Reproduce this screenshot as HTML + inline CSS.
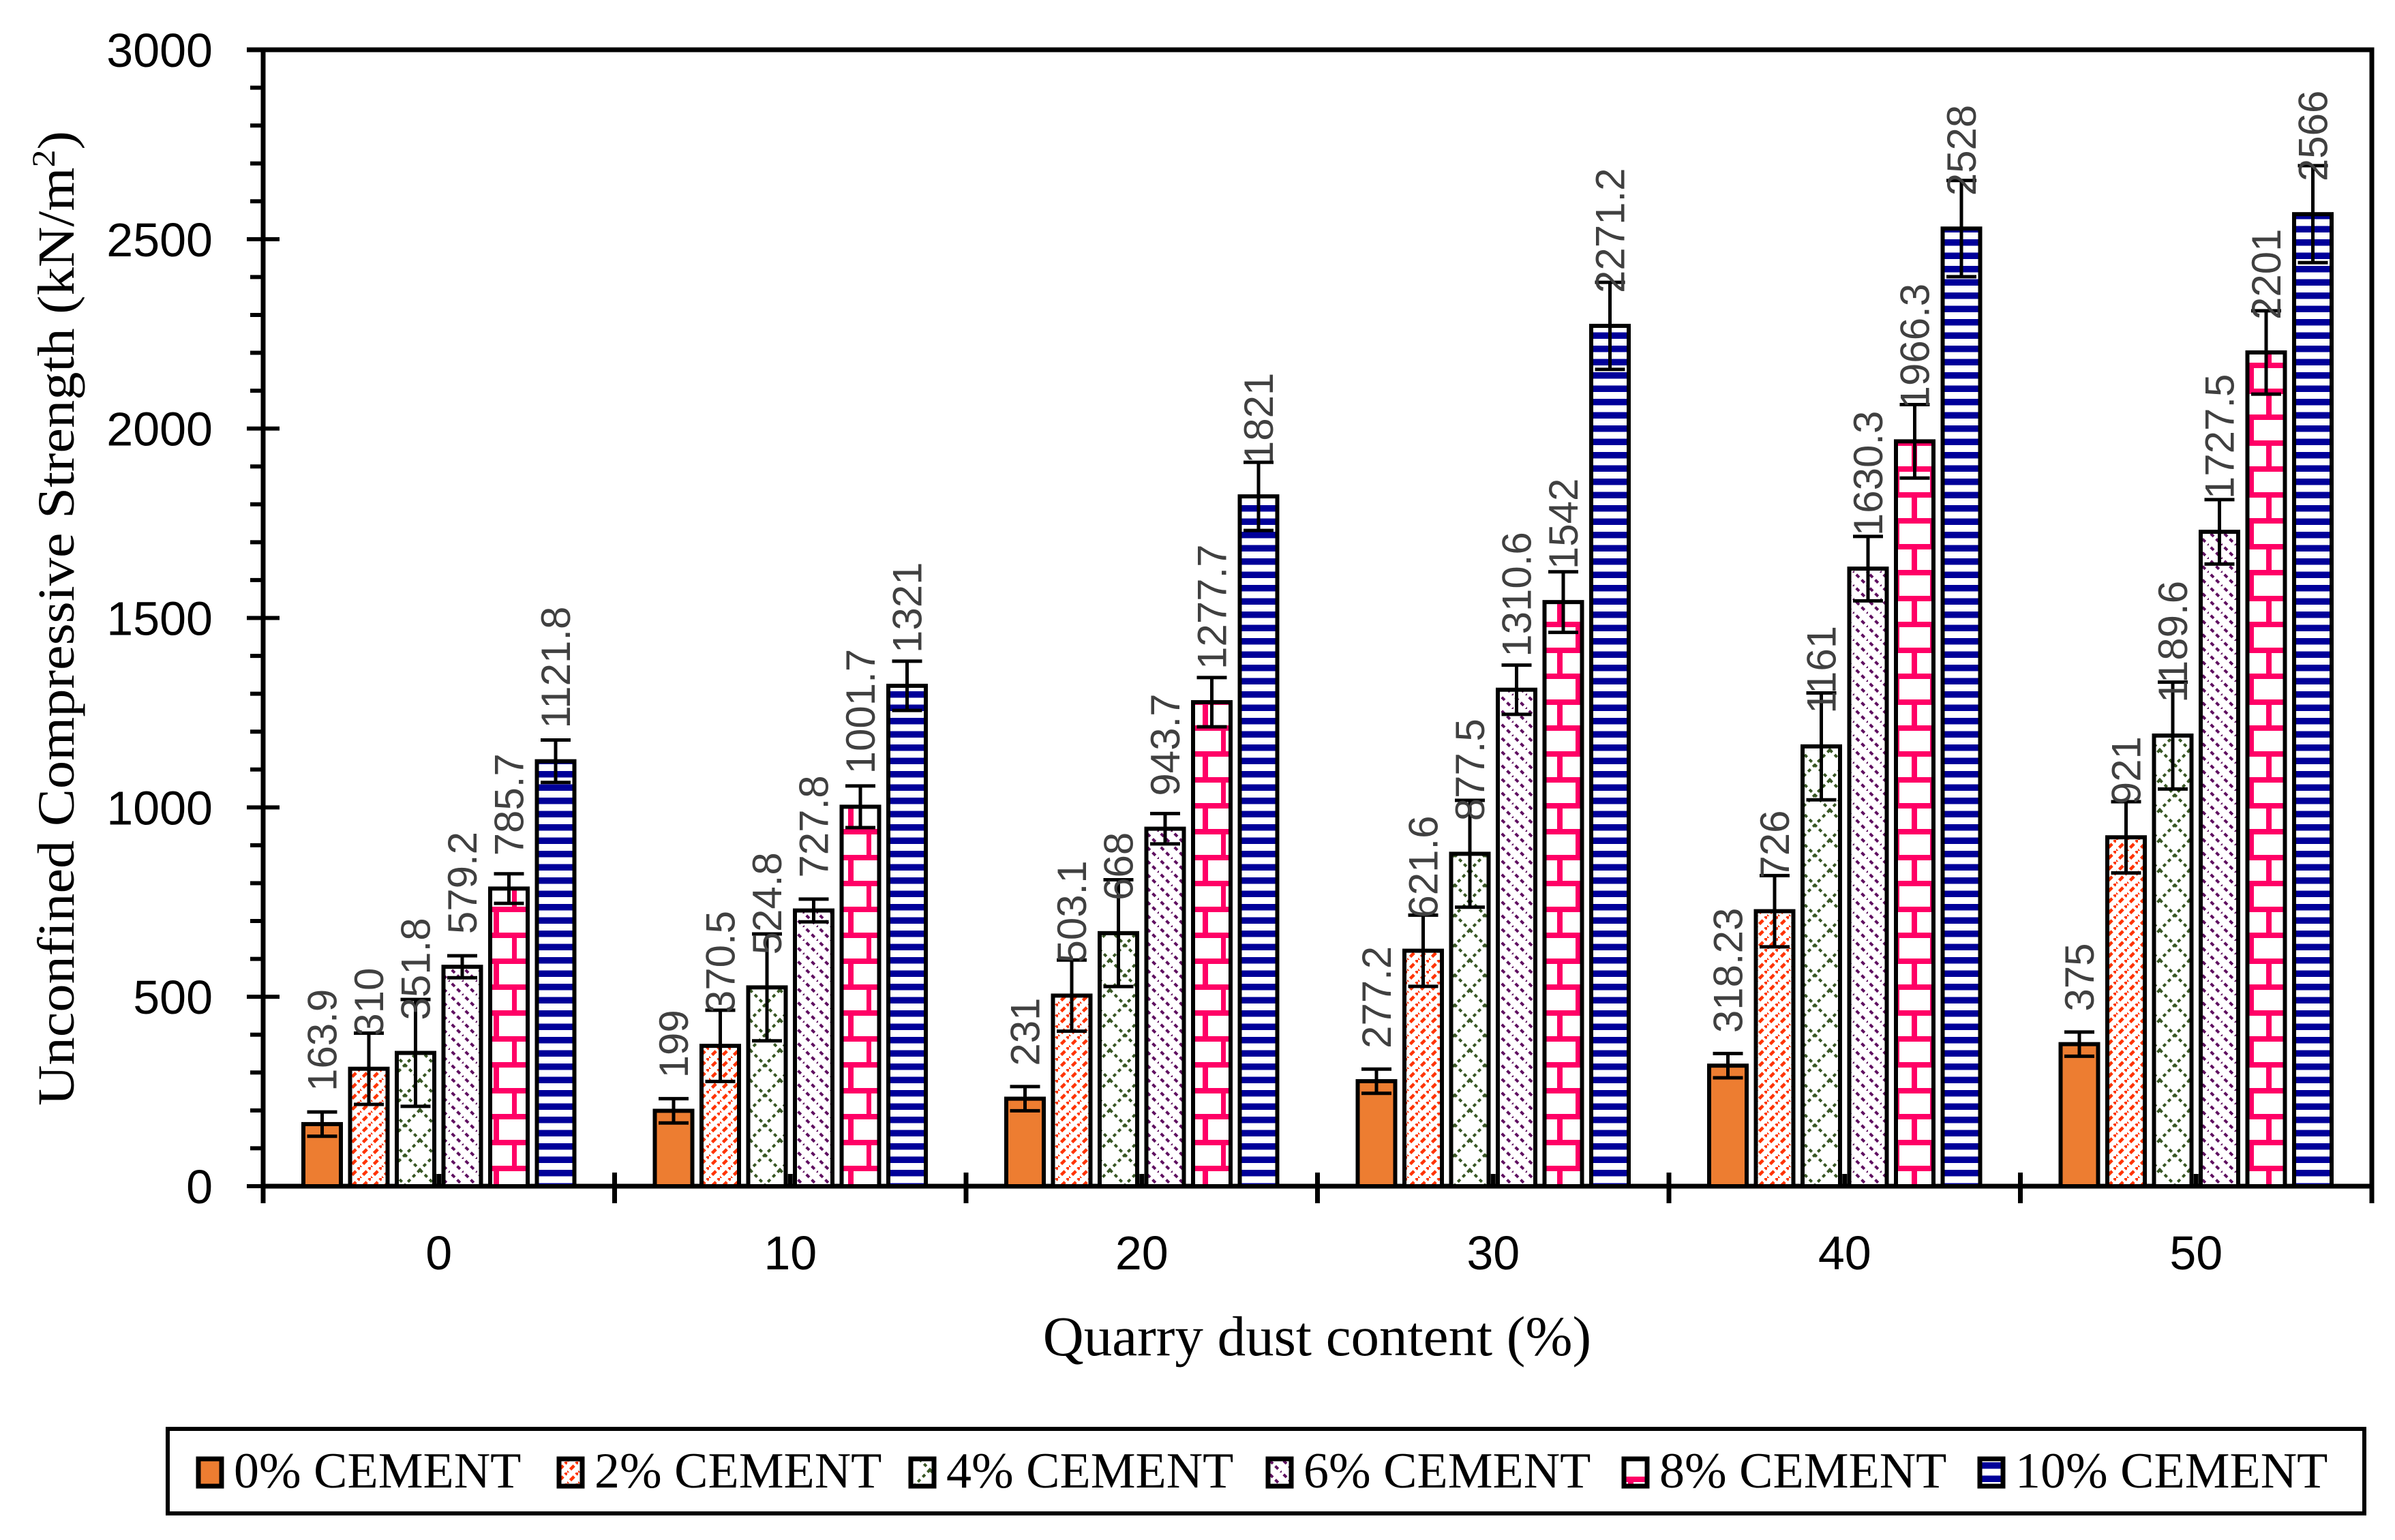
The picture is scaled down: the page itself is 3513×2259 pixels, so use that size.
<!DOCTYPE html>
<html><head><meta charset="utf-8"><style>
html,body{margin:0;padding:0;background:#fff;}
svg{display:block;}
</style></head><body>
<svg id="chart" xmlns="http://www.w3.org/2000/svg" width="3513" height="2259" viewBox="0 0 3513 2259">
<defs>
<pattern id="p2" patternUnits="userSpaceOnUse" width="16" height="16">
<rect width="16" height="16" fill="#fff"/>
<path d="M-4,20 L20,-4" stroke="#FF3300" stroke-width="4.5" stroke-dasharray="8,4"/>
</pattern>
<pattern id="p4" patternUnits="userSpaceOnUse" width="44" height="44">
<rect width="44" height="44" fill="#fff"/>
<path d="M0,0 L44,44 M44,0 L0,44" stroke="#385723" stroke-width="4" stroke-dasharray="5,5"/>
</pattern>
<pattern id="p6" patternUnits="userSpaceOnUse" width="20" height="20">
<rect width="20" height="20" fill="#fff"/>
<path d="M-5,-5 L25,25" stroke="#5F1060" stroke-width="4" stroke-dasharray="6,5"/>
</pattern>
<pattern id="p8" patternUnits="userSpaceOnUse" width="52" height="76">
<rect width="52" height="76" fill="#fff"/>
<rect x="0" y="0" width="52" height="8" fill="#FF0066"/>
<rect x="0" y="38" width="52" height="8" fill="#FF0066"/>
<rect x="23" y="8" width="7" height="30" fill="#FF0066"/>
<rect x="0" y="46" width="4" height="30" fill="#FF0066"/>
<rect x="48" y="46" width="4" height="30" fill="#FF0066"/>
</pattern>
<pattern id="p10" patternUnits="userSpaceOnUse" width="20" height="19.5">
<rect width="20" height="19.5" fill="#fff"/>
<rect y="0" width="20" height="9.5" fill="#000099"/>
</pattern>
</defs>
<g id="axes"></g>
<g id="bars"></g>
<g id="labels"></g>
<text transform="translate(108,907) rotate(-90)" text-anchor="middle" font-family="Liberation Serif, serif" font-size="76" textLength="1430" lengthAdjust="spacingAndGlyphs">Unconfined Compressive Strength (kN/m<tspan font-size="48" dy="-28">2</tspan><tspan dy="28">)</tspan></text>
<text x="1932" y="1988" text-anchor="middle" font-family="Liberation Serif, serif" font-size="83">Quarry dust content (%)</text>
<g>
<rect x="246" y="2096" width="3222" height="124" fill="#fff" stroke="#000" stroke-width="6"/>
<g id="legend-items"></g>
</g>
</svg>
<script>
const categories = ["0","10","20","30","40","50"];
const seriesNames = ["0% CEMENT","2% CEMENT","4% CEMENT","6% CEMENT","8% CEMENT","10% CEMENT"];
const s0 = [163.9,199,231,277.2,318.23,375];
const s2 = [310,370.5,503.1,621.6,726,921];
const s4 = [351.8,524.8,668,877.5,1161,1189.6];
const s6 = [579.2,727.8,943.7,1310.6,1630.3,1727.5];
const s8 = [785.7,1001.7,1277.7,1542,1966.3,2201];
const s10 = [1121.8,1321,1821,2271.2,2528,2566];
const e0 = [32,32,32,32,32,32];
const e2 = [94,94,94,94,94,94];
const e4 = [141,141,141,141,141,141];
const e6 = [29,30,40,65,85,85];
const e8 = [39,55,65,80,97,110];
const e10 = [56,65,90,115,127,128];
const yTicks = [0,500,1000,1500,2000,2500,3000];

const series=[s0,s2,s4,s6,s8,s10];
const errs=[e0,e2,e4,e6,e8,e10];
const fills=["#ED7D31","url(#p2)","url(#p4)","url(#p6)","url(#p8)","url(#p10)"];
const NS="http://www.w3.org/2000/svg";
const X0=386,X1=3479,Y0=1740,Y1=73,YMAX=3000;
const gw=(X1-X0)/categories.length, step=68.5, bw=55;
function y(v){return Y0-(v/YMAX)*(Y0-Y1);}
function gx(i){return X0+(i+0.5)*gw;}
function mk(tag,attrs,parent){const e=document.createElementNS(NS,tag);for(const k in attrs)e.setAttribute(k,attrs[k]);parent.appendChild(e);return e;}
const axes=document.getElementById('axes'),bars=document.getElementById('bars'),labels=document.getElementById('labels');
let ln=mk('path',{d:`M${X0-24},${Y1} L${X1},${Y1} L${X1},${Y0}`,stroke:'#000','stroke-width':7,fill:'none'},axes);


ln=mk('line',{x1:X0,y1:Y1,x2:X0,y2:Y0+25,stroke:'#000','stroke-width':7},axes);


ln=mk('line',{x1:X0,y1:Y0,x2:X1,y2:Y0,stroke:'#000','stroke-width':7},axes);


for(let v=0;v<=YMAX;v+=100){
  const major=v%500===0;
  const t=mk('line',{x1:major?X0-24:X0-19,y1:y(v),x2:major?X0+24:X0,y2:y(v),stroke:'#000','stroke-width':6},axes);
  
  
}
yTicks.forEach(v=>{
  const t=mk('text',{x:312,y:y(v)+25,'text-anchor':'end','font-family':'Liberation Sans, sans-serif','font-size':70},axes);
  t.textContent=String(v);
  
  
});
for(let i=0;i<=categories.length;i++){
  const t=mk('line',{x1:X0+i*gw,y1:Y0-20,x2:X0+i*gw,y2:Y0+25,stroke:'#000','stroke-width':7},axes);
  
  
}
categories.forEach((c,i)=>{
  const t=mk('line',{x1:gx(i),y1:Y0-18,x2:gx(i),y2:Y0,stroke:'#000','stroke-width':7},axes);
  
  
  const l=mk('text',{x:gx(i),y:1862,'text-anchor':'middle','font-family':'Liberation Sans, sans-serif','font-size':70},axes);
  l.textContent=c;
  
  
});
series.forEach((s,j)=>{
  s.forEach((v,i)=>{
    const cx=gx(i)+(j-2.5)*step;
    const r=mk('rect',{x:cx-bw/2,y:y(v),width:bw,height:Y0-y(v),fill:fills[j],stroke:'#000','stroke-width':6},bars);
    
    
    const e=errs[j][i];
    const eb=mk('path',{d:`M${cx},${y(v+e)} L${cx},${y(v-e)} M${cx-22},${y(v+e)} L${cx+22},${y(v+e)} M${cx-22},${y(v-e)} L${cx+22},${y(v-e)}`,stroke:'#000','stroke-width':5,fill:'none'},bars);
    
    
    const ty=y(v)-48;
    const t=mk('text',{x:0,y:0,transform:`translate(${cx+21},${ty}) rotate(-90)`,'text-anchor':'start','font-family':'Liberation Sans, sans-serif','font-size':60,fill:'#404040'},labels);
    t.textContent=String(v);
    
    
  });
});
const lg=document.getElementById('legend-items');
const lx=[291,820,1336,1860,2382,2904];
seriesNames.forEach((n,j)=>{
  const g=mk('g',{},lg);
  
  
  mk('rect',{x:lx[j],y:2140,width:34,height:40,fill:fills[j],stroke:'#000','stroke-width':7},g);
  const t=mk('text',{x:lx[j]+52,y:2182,'font-family':'Liberation Serif, serif','font-size':74},g);
  t.textContent=n;
});
</script>
</body></html>
